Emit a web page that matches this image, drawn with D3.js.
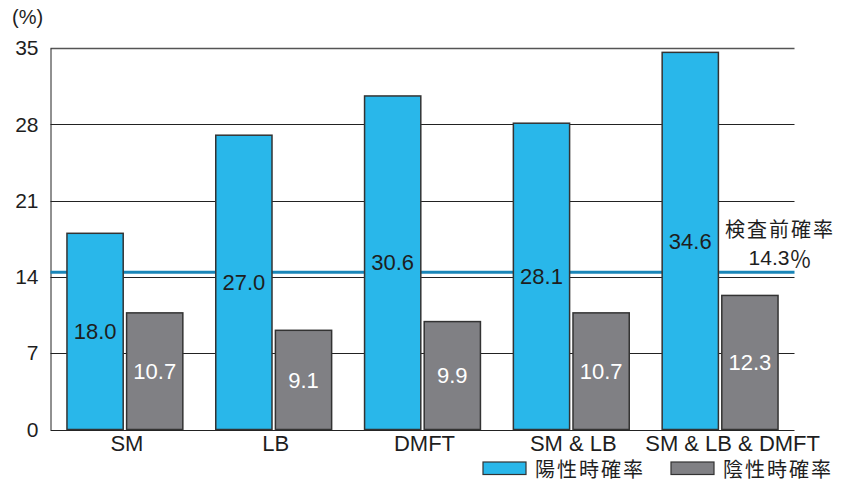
<!DOCTYPE html>
<html>
<head>
<meta charset="utf-8">
<script src="https://cdn.jsdelivr.net/npm/d3@7"></script>
<style>
  html, body { margin: 0; padding: 0; background: #fff; }
  svg { display: block; }
  .num { font-family: "Liberation Sans", Arial, sans-serif; }
  .cjk { font-family: "Noto Sans CJK JP", sans-serif; }
</style>
</head>
<body>
<svg id="chart" width="848" height="488"></svg>
<script>
// Test combinations and their probabilities (%)
const categories = ["SM", "LB", "DMFT", "SM & LB", "SM & LB & DMFT"];
const seriesNames = ["陽性時確率", "陰性時確率"];
const positiveValues = [18.0, 27.0, 30.6, 28.1, 34.6];
const negativeValues = [10.7, 9.1, 9.9, 10.7, 12.3];
const pretestProbability = 14.3;
const yTicks = [0, 7, 14, 21, 28, 35];

const colors = { "陽性時確率": "#29b7ea", "陰性時確率": "#808084" };
const labelColors = { "陽性時確率": "#1e1e1e", "陰性時確率": "#ffffff" };

const svg = d3.select("#chart");
const margin = { left: 50.5, right: 53.5, top: 48, bottom: 58.5 };
const width = 848, height = 488;

const x0 = d3.scaleBand()
  .domain(categories)
  .range([margin.left, width - margin.right]);

const x1 = d3.scaleBand()
  .domain(seriesNames)
  .range([0, x0.bandwidth()])
  .paddingInner(0.057)
  .paddingOuter(0.276);

const y = d3.scaleLinear()
  .domain([0, 35])
  .range([height - margin.bottom, margin.top]);

const rows = categories.map((c, i) => ({
  category: c,
  values: [
    { series: seriesNames[0], value: positiveValues[i] },
    { series: seriesNames[1], value: negativeValues[i] }
  ]
}));

// Horizontal gridlines
svg.append("g")
  .selectAll("line")
  .data(yTicks)
  .join("line")
  .attr("x1", margin.left)
  .attr("x2", width - margin.right)
  .attr("y1", d => Math.round(y(d)) + 0.5)
  .attr("y2", d => Math.round(y(d)) + 0.5)
  .attr("stroke", d => d === 35 ? "#555" : "#222")
  .attr("stroke-width", d => d === 35 ? 1.6 : 1);

// Y axis labels
const yAxis = d3.axisLeft(y).tickValues(yTicks).tickSize(0).tickPadding(12);
const yg = svg.append("g")
  .attr("transform", `translate(${margin.left},0)`)
  .call(yAxis);
yg.select(".domain").attr("stroke", "#222").attr("stroke-width", 1);
yg.selectAll("text")
  .attr("class", "num")
  .attr("font-size", 21)
  .attr("fill", "#1e1e1e");

svg.append("text")
  .attr("class", "num")
  .attr("x", 12)
  .attr("y", 24)
  .attr("font-size", 20)
  .attr("fill", "#1e1e1e")
  .text("(%)");

// Pre-test probability reference line
svg.append("line")
  .attr("x1", margin.left)
  .attr("x2", width - margin.right)
  .attr("y1", y(pretestProbability) - 1.5)
  .attr("y2", y(pretestProbability) - 1.5)
  .attr("stroke", "#1a86b8")
  .attr("stroke-width", 3);

// Bars
const groups = svg.append("g")
  .selectAll("g")
  .data(rows)
  .join("g")
  .attr("transform", d => `translate(${x0(d.category)},0)`);

groups.selectAll("rect")
  .data(d => d.values)
  .join("rect")
  .attr("x", d => x1(d.series))
  .attr("width", x1.bandwidth())
  .attr("y", d => y(d.value))
  .attr("height", d => y(0) - y(d.value))
  .attr("fill", d => colors[d.series])
  .attr("stroke", "#333")
  .attr("stroke-width", 1.5);

// Value labels inside the bars
groups.selectAll("text")
  .data(d => d.values)
  .join("text")
  .attr("class", "num")
  .attr("x", d => x1(d.series) + x1.bandwidth() / 2)
  .attr("y", d => y(d.value / 2))
  .attr("dy", "0.35em")
  .attr("text-anchor", "middle")
  .attr("font-size", 22)
  .attr("fill", d => labelColors[d.series])
  .text(d => d.value.toFixed(1));

// Category labels; a long label is pushed right so it ends near the figure edge
svg.append("g")
  .selectAll("text")
  .data(categories)
  .join("text")
  .attr("class", "num")
  .attr("y", height - margin.bottom + 21)
  .attr("text-anchor", "middle")
  .attr("font-size", 22)
  .attr("fill", "#1e1e1e")
  .text(d => d)
  .attr("x", function (d) {
    const w = this.getComputedTextLength();
    const cx = x0(d) + x0.bandwidth() / 2 + 2;
    return w > x0.bandwidth() ? width - 28 - w / 2 : cx;
  });

// Reference line annotation
const ann = svg.append("g").attr("fill", "#1e1e1e");
ann.append("text")
  .attr("class", "cjk")
  .attr("x", 780)
  .attr("y", 228)
  .attr("dominant-baseline", "central")
  .attr("text-anchor", "middle")
  .attr("font-size", 20)
  .attr("letter-spacing", 2)
  .text("検査前確率");
const pt = ann.append("text")
  .attr("x", 780)
  .attr("y", 257)
  .attr("dominant-baseline", "central")
  .attr("text-anchor", "middle");
pt.append("tspan").attr("class", "num").attr("font-size", 21).text(pretestProbability.toFixed(1));
pt.append("tspan").attr("class", "cjk").attr("font-size", 22).text("％");

// Legend
const legend = svg.append("g")
  .selectAll("g")
  .data(seriesNames)
  .join("g")
  .attr("transform", (d, i) => `translate(${483 + i * 188},462)`);
legend.append("rect")
  .attr("width", 43)
  .attr("height", 12.5)
  .attr("fill", d => colors[d])
  .attr("stroke", "#333")
  .attr("stroke-width", 1.2);
legend.append("text")
  .attr("class", "cjk")
  .attr("x", 52)
  .attr("y", 6.5)
  .attr("dominant-baseline", "central")
  .attr("font-size", 20)
  .attr("letter-spacing", 2)
  .attr("fill", "#1e1e1e")
  .text(d => d);
</script>
</body>
</html>
